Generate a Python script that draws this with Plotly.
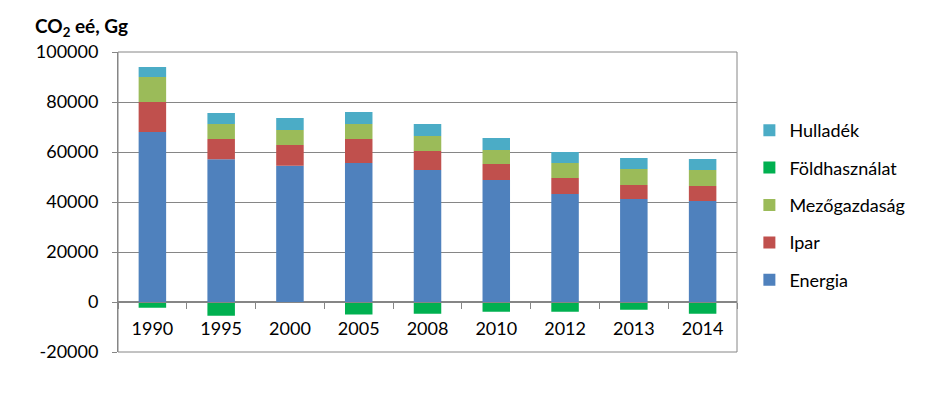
import plotly.graph_objects as go

years = ['1990', '1995', '2000', '2005', '2008', '2010', '2012', '2013', '2014']
energia = [68000, 57100, 54500, 55600, 52800, 48800, 43200, 41200, 40400]
ipar = [12000, 8100, 8300, 9600, 7600, 6400, 6400, 5600, 6000]
mezogazdasag = [10000, 6000, 6000, 6000, 6000, 5600, 6000, 6400, 6400]
foldhasznalat = [-2300, -5500, 0, -5000, -4700, -3900, -3900, -3100, -4700]
hulladek = [4000, 4400, 4800, 4800, 4800, 4800, 4400, 4400, 4400]
y_ticks = [-20000, 0, 20000, 40000, 60000, 80000, 100000]

series = [
    ('Energia', energia, '#4F81BD'),
    ('Ipar', ipar, '#C0504D'),
    ('Mezőgazdaság', mezogazdasag, '#9BBB59'),
    ('Földhasználat', foldhasznalat, '#00B050'),
    ('Hulladék', hulladek, '#4BACC6'),
]

fig = go.Figure()
for i, (name, vals, col) in enumerate(series):
    # legend lists the top of the stack first
    fig.add_trace(go.Bar(x=years, y=vals, name=name, marker_color=col,
                         marker_line_width=0, legendgroup=name,
                         legendrank=len(series) - i))

grid = '#868686'
# page body adds 8px, so margins are a bit smaller than the target box
fig.update_layout(
    width=933, height=410,
    margin=dict(l=110, r=204, t=44, b=66),
    barmode='relative',
    bargap=0.6,
    plot_bgcolor='white', paper_bgcolor='white',
    font=dict(family='Lato', size=18, color='black'),
    showlegend=True,
    legend=dict(x=1.02, y=0.80, xanchor='left', yanchor='top',
                traceorder='grouped', tracegroupgap=11, itemwidth=30,
                font=dict(size=18)),
    xaxis=dict(type='category', anchor='free', position=1/6, automargin=False,
               showline=True, linecolor=grid, ticks='outside', ticklen=6,
               tickcolor=grid, tickson='boundaries', showgrid=False,
               ticklabelstandoff=10),
    yaxis=dict(range=[-20000, 100000], tickvals=y_ticks,
               ticktext=[str(v) for v in y_ticks], automargin=False,
               showgrid=True, gridcolor=grid, zeroline=True, zerolinecolor=grid,
               showline=True, linecolor=grid, ticks='outside', ticklen=5,
               tickcolor=grid, ticklabelstandoff=10),
)
fig.add_shape(type='rect', xref='x domain', yref='y domain', x0=0, x1=1, y0=0, y1=1,
              line=dict(color=grid, width=1))
fig.add_annotation(text='<b>CO<sub>2</sub> eé, Gg</b>', xref='paper', yref='paper',
                   x=-0.137, y=1.035, xanchor='left', yanchor='bottom', showarrow=False,
                   font=dict(size=19))

fig.write_html('out.html')
